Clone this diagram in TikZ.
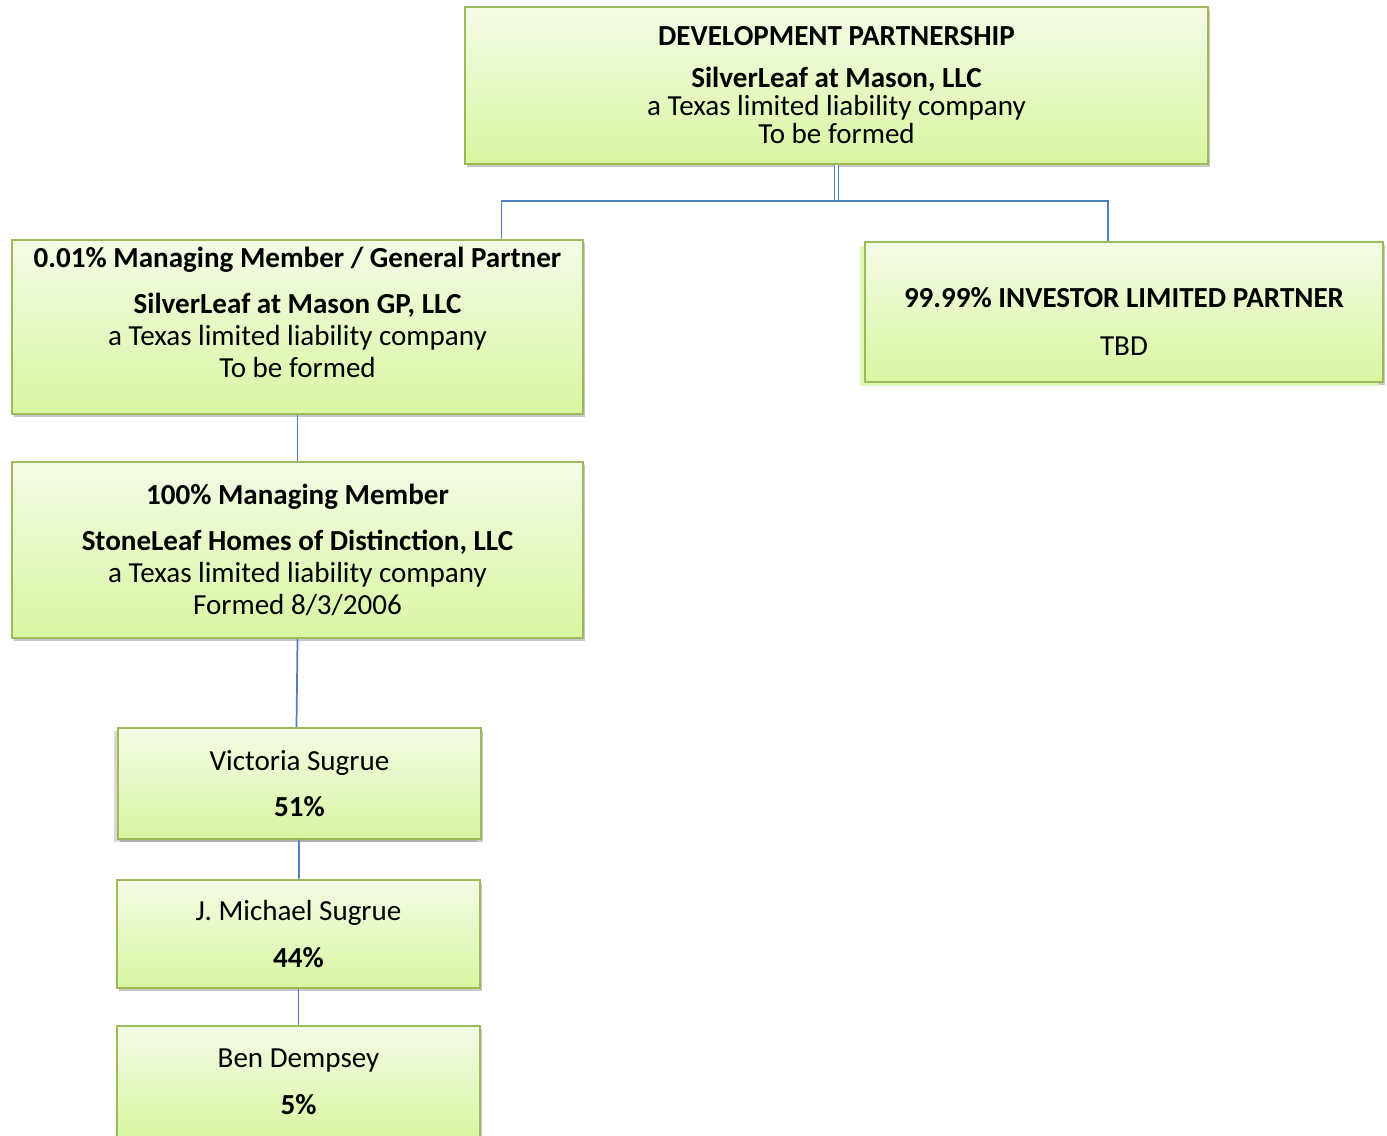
\documentclass[tikz,border=0pt]{standalone}
\usepackage{fontspec}
\setmainfont{Carlito}
\usetikzlibrary{positioning,calc,shadows}
\definecolor{leafline}{HTML}{9BBB59}
\definecolor{leaftop}{HTML}{F4FBE6}
\definecolor{leafbottom}{HTML}{D8F6A2}
\definecolor{wire}{HTML}{4F81BD}
\tikzset{
  entity/.style={draw=leafline,line width=1.4pt,top color=leaftop,bottom color=leafbottom,
    align=center,inner sep=0pt,font=\fontsize{21.8}{24}\selectfont,
    drop shadow={shadow xshift=1.5pt,shadow yshift=-2.5pt,opacity=0.3,fill=black!70}},
  link/.style={draw=wire,line width=1.3pt},
  trunk/.style={draw=wire,line width=0.9pt,double=white,double distance=1.6pt}
}

\begin{document}
\begin{tikzpicture}[x=0.75pt,y=-0.75pt]
  \fill[white] (0,0) rectangle (1387,1135);
  \useasboundingbox (0,0) rectangle (1387,1135);

  % partnership and its two partners
  \node[entity,minimum width=557.25pt,minimum height=117.75pt,font=\fontsize{21.8}{21}\selectfont]
    (partnership) at (836.5,85.5)
    {\textbf{DEVELOPMENT PARTNERSHIP}\\[10.5pt]
     \textbf{SilverLeaf at Mason, LLC}\\
     a Texas limited liability company\\
     To be formed};
  \node[entity,minimum width=428.25pt,minimum height=130.5pt] (genpartner) at (297.5,327)
    {\textbf{0.01\% Managing Member / General Partner}\\[11pt]
     \textbf{SilverLeaf at Mason GP, LLC}\\
     a Texas limited liability company\\
     To be formed\rule[-22pt]{0pt}{1pt}};
  \node[entity,minimum width=388.5pt,minimum height=105pt,
    general shadow={shadow xshift=-4pt,shadow yshift=-3pt,fill=leafbottom!80}] (investor) at (1124,312)
    {\rule{0pt}{29pt}\textbf{99.99\% INVESTOR LIMITED PARTNER}\\[12pt]
     TBD};

  % managing member and its owners
  \node[entity,minimum width=428.25pt,minimum height=132pt] (manager) at (297.5,550)
    {\textbf{100\% Managing Member}\\[11pt]
     \textbf{StoneLeaf Homes of Distinction, LLC}\\
     a Texas limited liability company\\
     Formed 8/3/2006};
  \node[entity,minimum width=272.25pt,minimum height=83.25pt,
    general shadow={shadow xshift=-3pt,shadow yshift=-2pt,opacity=0.25,fill=black!60}] (victoria) at (299.5,783.5)
    {Victoria Sugrue\\[11pt]\textbf{51\%}};
  \node[entity,minimum width=272.25pt,minimum height=81pt] (michael) at (298.5,934)
    {J. Michael Sugrue\\[11pt]\textbf{44\%}};
  \node[entity,minimum width=272.25pt,minimum height=84pt] (ben) at (298.5,1082)
    {Ben Dempsey\\[11pt]\textbf{5\%}};

  % ownership lines
  \coordinate (bus) at ($(partnership.south)+(0,36)$);
  \draw[trunk] (partnership.south) -- (bus);
  \draw[link] ($(genpartner.north)+(204,0)$) |- (bus) -| ($(investor.north)+(-16,0)$);
  \draw[link] (genpartner) -- (manager);
  \draw[link] (manager.south) -- ($(victoria.north)+(-3,0)$);
  \draw[link] (victoria) -- (michael);
  \draw[link] (michael) -- (ben);
\end{tikzpicture}
\end{document}
